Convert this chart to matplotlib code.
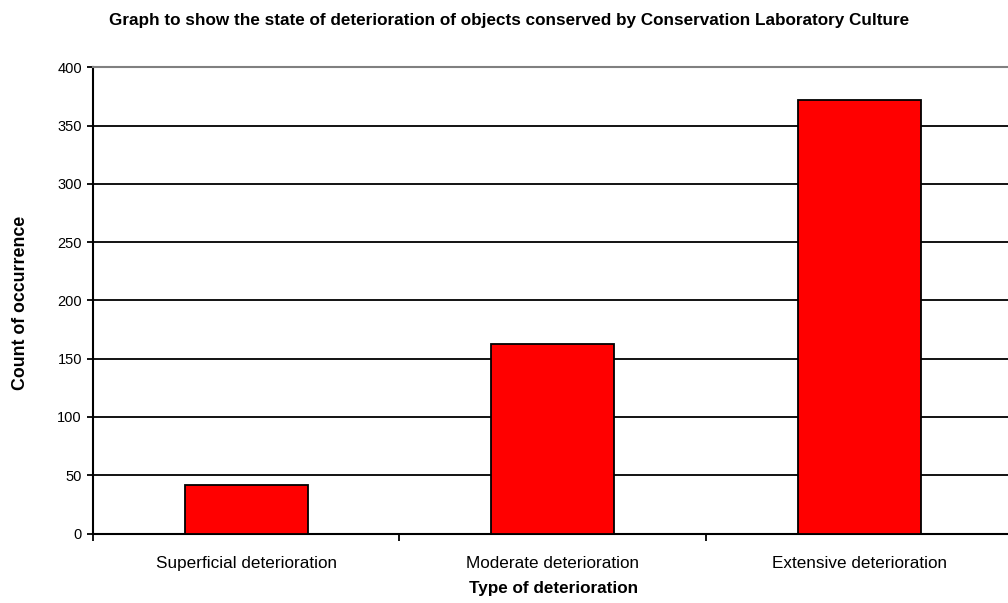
import matplotlib
matplotlib.use('Agg')
import matplotlib.pyplot as plt

categories = ['Superficial deterioration', 'Moderate deterioration', 'Extensive deterioration']
counts = [42, 163, 372]
yticks = [0, 50, 100, 150, 200, 250, 300, 350, 400]

plt.rcParams['font.family'] = ['Liberation Sans', 'DejaVu Sans']

W, H = 1008, 603
fig = plt.figure(figsize=(W / 100, H / 100), dpi=100)
ax = fig.add_axes([93 / W, (H - 533.5) / H, (1012.5 - 93) / W, (533.5 - 67.3) / H])

ax.set_ylim(0, 400)
ax.set_xlim(-0.5, len(categories) - 0.5)
ax.set_yticks(yticks)
ax.yaxis.grid(True, color='black', linewidth=1.3)
ax.set_axisbelow(True)

ax.bar(range(len(categories)), counts, width=0.4, color='#ff0000',
       edgecolor='black', linewidth=1.3, zorder=3)

ax.set_xticks(range(len(categories)))
ax.set_xticklabels(categories, fontsize=12.3)
ax.set_xticks([-0.5, 0.5, 1.5, 2.5], minor=True)
ax.tick_params(axis='x', which='major', length=0, pad=16)
ax.tick_params(axis='x', which='minor', length=5, width=1.3, direction='out')
ax.tick_params(axis='y', length=4, width=1.3, pad=4, labelsize=10.5)

for s in ['left', 'bottom']:
    ax.spines[s].set_linewidth(1.5)
ax.spines['top'].set_color('#808080')
ax.spines['top'].set_linewidth(1.5)
ax.spines['right'].set_visible(False)

fig.text(509 / W, 1 - 20 / H, 'Graph to show the state of deterioration of objects conserved by Conservation Laboratory Culture',
         ha='center', va='center', fontsize=12.3, fontweight='bold')
fig.text(21 / W, 1 - 303 / H, 'Count of occurrence', rotation=90, ha='center', va='center',
         fontsize=12.8, fontweight='bold')
fig.text(554 / W, 1 - 588 / H, 'Type of deterioration', ha='center', va='center',
         fontsize=12.3, fontweight='bold')

fig.savefig('out.png', dpi=100)
